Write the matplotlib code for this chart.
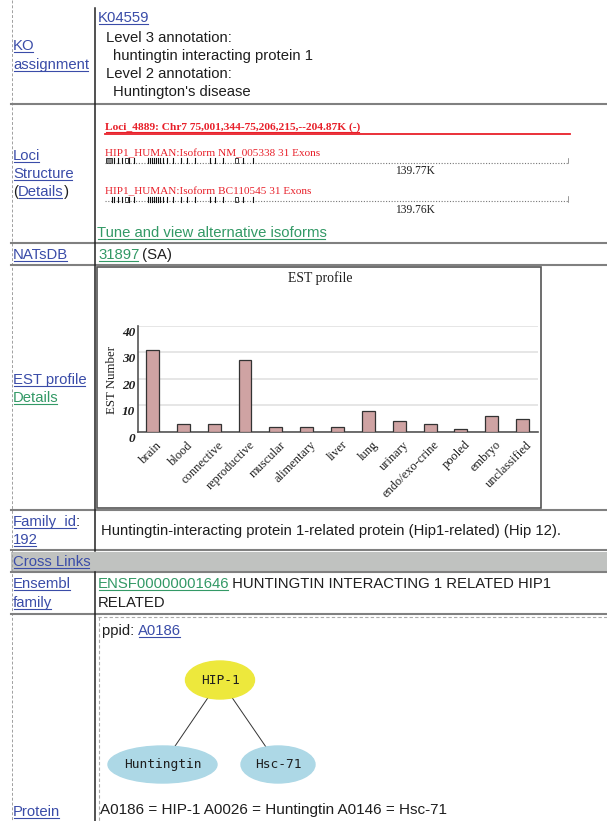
import matplotlib
matplotlib.use('Agg')
import matplotlib.pyplot as plt
from matplotlib.patches import Rectangle, Ellipse
from matplotlib.transforms import ScaledTranslation

# ---- data ----
tissues = ['brain', 'blood', 'connective', 'reproductive', 'muscular', 'alimentary',
           'liver', 'lung', 'urinary', 'endo/exo-crine', 'pooled', 'embryo', 'unclassified']
est_counts = [31, 3, 3, 27, 2, 2, 2, 8, 4, 3, 1, 6, 5]

locus_kb = 204.87
iso_names = ['HIP1_HUMAN:Isoform NM_005338 31 Exons', 'HIP1_HUMAN:Isoform BC110545 31 Exons']
iso_lengths = ['139.77K', '139.76K']
# exon (start, end) in kb from locus start
iso1_exons = [(0.3, 3.2), (4.1, 4.3), (5.9, 6.1), (7.4, 7.6), (8.8, 10.3), (10.7, 10.9),
              (12.9, 13.1), (19.0, 19.2), (19.9, 20.1), (20.8, 21.0), (21.6, 21.8),
              (22.5, 22.7), (23.4, 23.6), (24.3, 24.5), (25.6, 25.8), (27.2, 27.4),
              (29.9, 30.1), (33.6, 33.8), (36.1, 36.3), (39.7, 39.9), (46.4, 46.6),
              (48.6, 48.8), (52.2, 52.4), (57.4, 58.9), (61.1, 61.3), (65.2, 65.4)]
iso2_exons = [(2.9, 3.1)] + iso1_exons[1:]

ppi_nodes = ['HIP-1', 'Huntingtin', 'Hsc-71']
ppi_ids = ['A0186', 'A0026', 'A0146']
ppi_edges = [('HIP-1', 'Huntingtin'), ('HIP-1', 'Hsc-71')]

# ---- page layout (pixels) ----
W, H = 607, 821
BLUE = '#3a4ca8'
GREEN = '#339966'
INK = '#1e1e1e'
SANS = 'Liberation Sans'
SERIF = 'Liberation Serif'
FS = 10.7

fig = plt.figure(figsize=(W / 100, H / 100), dpi=100)
page = fig.add_axes([0, 0, 1, 1])
page.set_xlim(0, W)
page.set_ylim(H, 0)
page.axis('off')
renderer = fig.canvas.get_renderer()


def put(x, y, s, color=INK, size=FS, family=SANS, underline=False, **kw):
    t = page.text(x, y, s, color=color, fontsize=size, family=family, va='center', **kw)
    bb = t.get_window_extent(renderer)
    inv = page.transData.inverted()
    x0 = inv.transform((bb.x0, bb.y0))[0]
    x1 = inv.transform((bb.x1, bb.y0))[0]
    if underline:
        uy = y + size * 100 / 72 * 0.40
        page.plot([x0 + 0.5, x1 - 1.5], [uy, uy], color=color, lw=0.8)
    return x1


def link(x, y, s, color=BLUE, **kw):
    return put(x, y, s, color=color, underline=True, **kw)


# grid of the table
page.plot([11.5, 11.5], [0, H], color='#a0a0a0', lw=0.7, ls=(0, (3, 2)))
page.add_patch(Rectangle((11, 552), W - 11, 20, color='#c0c2c0', lw=0))
for y in [104, 243, 265, 510, 550, 572, 614]:
    page.plot([11, W], [y, y], color='#808080', lw=1.5)
page.plot([95, 95], [8, 551], color='#222222', lw=1.1)
page.plot([95, 95], [572, H], color='#222222', lw=1.1)

# KO assignment row
link(13, 46, 'KO')
link(13, 65, 'assignment')
link(98, 18, 'K04559')
put(106, 38, 'Level 3 annotation:')
put(113, 56, 'huntingtin interacting protein 1')
put(106, 74, 'Level 2 annotation:')
put(113, 92, "Huntington's disease")

# Loci structure row
link(13, 156, 'Loci')
link(13, 174, 'Structure')
xe = put(13, 192, '(')
xe = link(xe, 192, 'Details')
put(xe, 192, ')')

put(105, 127, 'Loci_4889: Chr7 75,001,344-75,206,215,--204.87K (-)', color='#e8202a',
    size=8.2, family=SERIF, weight='bold', underline=True)
page.plot([105, 570], [134, 134], color='#e8202a', lw=1.3)

loci = fig.add_axes([105 / W, 1 - 215 / H, (569 - 105) / W, (215 - 140) / H])
loci.set_xlim(0, locus_kb)
loci.set_ylim(215, 140)
loci.axis('off')
for k, (exons, ty) in enumerate([(iso1_exons, 163), (iso2_exons, 201.5)]):
    put(105, ty - 9.5, iso_names[k], color='#e8202a', size=8.1, family=SERIF)
    loci.plot([0, locus_kb], [ty, ty], color='#777777', lw=0.8, ls=(0, (1, 1.5)))
    loci.plot([locus_kb, locus_kb], [ty - 4, ty + 0.5], color='#888888', lw=1.2)
    for s, e in exons:
        if e - s > 1.2:
            fill = '#8c8c8c' if e - s > 2 else 'white'
            loci.add_patch(Rectangle((s, ty - 4.5), e - s, 5, facecolor=fill,
                                     edgecolor='#222222', lw=0.6))
        else:
            loci.plot([s, s], [ty - 4.5, ty + 0.5], color='#111111', lw=0.8)
    put(415, ty + 8.5, iso_lengths[k], size=8.3, family=SERIF, ha='center')

link(97, 233, 'Tune and view alternative isoforms', color=GREEN)

# NATsDB row
link(13, 255, 'NATsDB')
xe = link(98, 255, '31897', color=GREEN)
put(xe - 1, 255, ' (SA)')

# EST profile row
link(13, 380, 'EST profile')
link(13, 398, 'Details', color=GREEN)
page.add_patch(Rectangle((97, 267), 444, 241, fill=False, edgecolor='#555555', lw=1.2))
put(320, 278, 'EST profile', size=9.9, family=SERIF, ha='center')
put(112, 380, 'EST Number', size=9.3, family=SERIF, ha='center', rotation=90)

ax = fig.add_axes([138 / W, 1 - 432 / H, 400 / W, 106 / H])
ax.patch.set_alpha(0)
ax.bar(range(len(tissues)), est_counts, width=0.42, color='#cfa3a3',
       edgecolor='#333333', lw=0.9, zorder=3)
ax.set_xlim(-0.47, 12.5)
ax.set_ylim(0, 40)
ax.set_yticks([0, 10, 20, 30, 40])
ax.yaxis.grid(True, color='#e6e6e6', lw=1.4, zorder=0)
for sp in ['top', 'right']:
    ax.spines[sp].set_visible(False)
for sp in ['left', 'bottom']:
    ax.spines[sp].set_color('#555555')
    ax.spines[sp].set_linewidth(1.2)
ax.set_xticks(range(len(tissues)))
ax.set_xticklabels(tissues, rotation=45, ha='right', rotation_mode='anchor',
                   fontsize=9, family=SERIF, color=INK)
ax.tick_params(axis='x', length=0, pad=5)
ax.tick_params(axis='y', length=0, pad=2)
for lab in ax.get_yticklabels():
    lab.set_fontfamily(SERIF)
    lab.set_fontstyle('italic')
    lab.set_fontweight('bold')
    lab.set_fontsize(9.5)
    lab.set_color(INK)
    lab.set_transform(lab.get_transform() + ScaledTranslation(0, -0.05, fig.dpi_scale_trans))
for lab in ax.get_xticklabels():
    lab.set_transform(lab.get_transform() + ScaledTranslation(0.035, 0, fig.dpi_scale_trans))

# Family row
xe = link(13, 522, 'Family_id')
put(xe - 1, 522, ':')
link(13, 540, '192')
put(101, 531, 'Huntingtin-interacting protein 1-related protein (Hip1-related) (Hip 12).')

# Cross links
link(13, 562, 'Cross Links')

# Ensembl row
link(13, 584, 'Ensembl')
link(13, 603, 'family')
xe = link(98, 584, 'ENSF00000001646', color=GREEN)
put(xe - 1, 584, ' HUNTINGTIN INTERACTING 1 RELATED HIP1')
put(98, 603, 'RELATED')

# Protein interaction row
page.plot([98, W], [617, 617], color='#aaaaaa', lw=0.8, ls=(0, (3, 2)))
page.plot([98.5, 98.5], [617, H], color='#aaaaaa', lw=0.8, ls=(0, (3, 2)))
xe = put(102, 631, 'ppid: ')
link(xe, 631, ppi_ids[0])

node_pos = {'HIP-1': (220, 680), 'Huntingtin': (162.5, 764.5), 'Hsc-71': (278, 764.5)}
node_size = {'HIP-1': (69, 38), 'Huntingtin': (109, 37), 'Hsc-71': (74, 37)}
node_col = {'HIP-1': '#ede83c', 'Huntingtin': '#add8e6', 'Hsc-71': '#add8e6'}
for a, b in ppi_edges:
    (xa, ya), (xb, yb) = node_pos[a], node_pos[b]
    page.plot([xa, xb], [ya, yb], color='#333333', lw=0.7, zorder=1)
for n in ppi_nodes:
    w, h = node_size[n]
    page.add_patch(Ellipse(node_pos[n], w, h, color=node_col[n], zorder=2))
    page.text(node_pos[n][0], node_pos[n][1], n, family='DejaVu Sans Mono', fontsize=9.3,
              ha='center', va='center', color=INK, zorder=3)

put(100, 810, ' '.join(f'{i} = {n}' for i, n in zip(ppi_ids, ppi_nodes)), size=11)
link(13, 812, 'Protein')

fig.savefig('out.png', dpi=100)
